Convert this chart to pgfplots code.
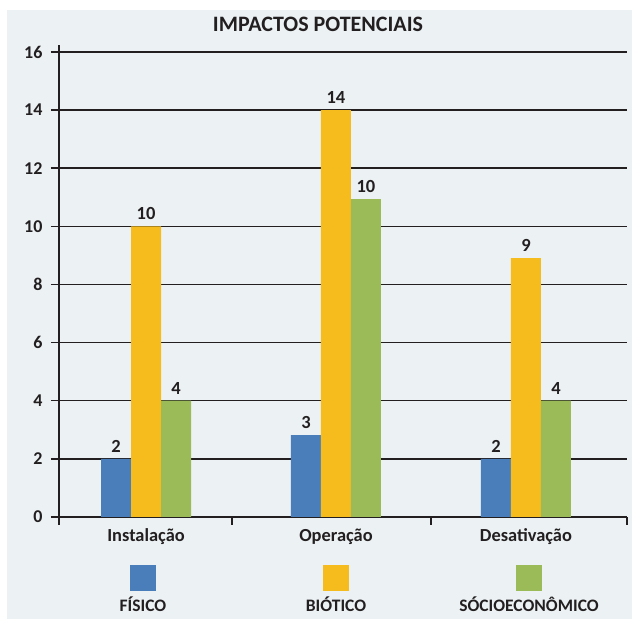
\documentclass[border=0pt]{standalone}
\usepackage{pgfplots}
\pgfplotsset{compat=1.18}
\usepackage{pgfplotstable}
\usepackage{fontspec}
\setmainfont{Carlito}
\definecolor{bg}{HTML}{ECF1F4}
\definecolor{fis}{HTML}{4A7EBB}
\definecolor{bio}{HTML}{F6BC1E}
\definecolor{soc}{HTML}{9BBB59}
\definecolor{ink}{HTML}{231F20}

\pgfplotstableread{
x y lab
0 2 2
1 2.82 3
2 2 2
}\tfis
\pgfplotstableread{
x y lab
0 10 10
1 14 14
2 8.91 9
}\tbio
\pgfplotstableread{
x y lab
0 4 4
1 10.94 10
2 4 4
}\tsoc

\begin{document}
\begin{tikzpicture}[x=1pt,y=1pt]
\useasboundingbox (0,0) rectangle (638,619);
\fill[bg] (7,0) rectangle (632,609);
\begin{axis}[
  at={(59pt,102pt)}, anchor=south west,
  scale only axis, width=568pt, height=472pt,
  xmin=-0.458, xmax=2.532, ymin=0, ymax=16.24,
  axis lines*=left,
  axis line style={ink, line width=1.5pt},
  ybar=0pt, bar width=30pt,
  ytick={0,2,...,16},
  ymajorgrids, grid style={ink, line width=1.5pt},
  tick align=outside, major tick length=8pt,
  tick style={ink, line width=1.5pt},
  xtick={-0.458,0.453,1.5,2.532}, xticklabels={},
  extra x ticks={0,1,2},
  extra x tick labels={Instalação,Operação,Desativação},
  extra x tick style={major tick length=0pt, grid=none,
     tick label style={font=\fontsize{18.4}{21}\selectfont\bfseries, text=ink, yshift=-8pt}},
  yticklabel style={font=\fontsize{18}{21}\selectfont\bfseries, text=ink, xshift=-5pt},
  /pgf/number format/assume math mode=true,
  title={IMPACTOS POTENCIAIS},
  title style={at={(axis description cs:0.456,1.03)}, anchor=center,
     font=\fontsize{22}{26}\selectfont\bfseries, text=ink},
  nodes near coords, point meta=explicit symbolic,
  nodes near coords style={font=\fontsize{18.5}{21}\selectfont\bfseries, text=ink, yshift=3pt},
  legend style={at={(axis description cs:-0.022,-0.1017)}, anchor=north west,
     draw=none, fill=none, inner sep=0pt, outer sep=0pt,
     legend columns=3, column sep=0pt,
     nodes={inner sep=0pt, text width=193pt, align=center,
        font=\fontsize{17.5}{20}\selectfont\bfseries, text=ink},
     /tikz/every even column/.append style={column sep=0pt}},
]
\addplot[fill=fis, draw=none, legend image code/.code={}] table[x=x,y=y,meta=lab] {\tfis};
\addlegendentry{\textcolor{fis}{\rule{26pt}{26pt}}\\[0pt]FÍSICO}
\addplot[fill=bio, draw=none, legend image code/.code={}] table[x=x,y=y,meta=lab] {\tbio};
\addlegendentry{\textcolor{bio}{\rule{26pt}{26pt}}\\[0pt]BIÓTICO}
\addplot[fill=soc, draw=none, legend image code/.code={}] table[x=x,y=y,meta=lab] {\tsoc};
\addlegendentry{\textcolor{soc}{\rule{26pt}{26pt}}\\[0pt]SÓCIOECONÔMICO}
\end{axis}
\end{tikzpicture}
\end{document}
